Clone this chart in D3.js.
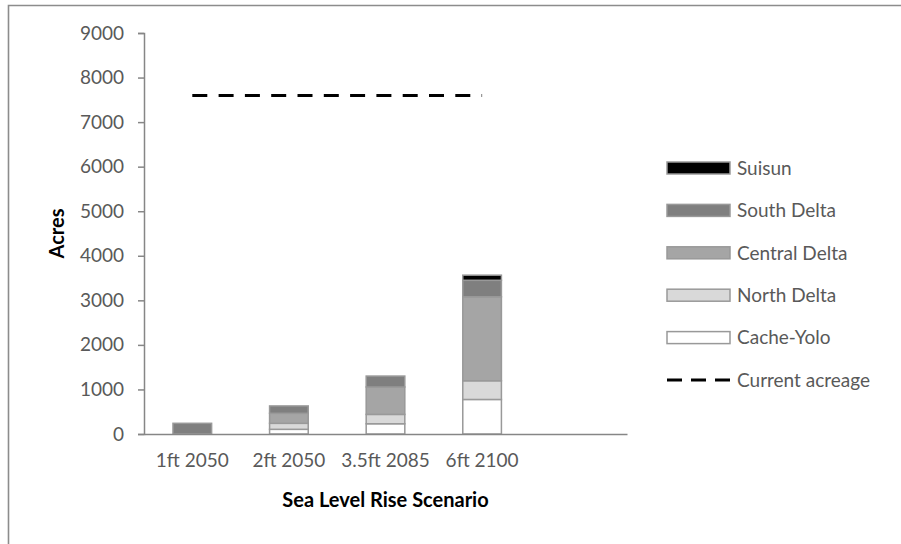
<!DOCTYPE html>
<html>
<head>
<meta charset="utf-8">
<script src="https://cdn.jsdelivr.net/npm/d3@7"></script>
<style>
  html, body { margin: 0; padding: 0; background: #fff; }
  svg { display: block; }
  text { font-family: Lato, "Open Sans", sans-serif; }
</style>
</head>
<body>
<svg id="chart" width="901" height="544"></svg>
<script>
// ---- data ----
const categories = ["1ft 2050", "2ft 2050", "3.5ft 2085", "6ft 2100", ""];
const seriesNames = ["Cache-Yolo", "North Delta", "Central Delta", "South Delta", "Suisun"];
const cacheYolo    = [0, 105, 230, 775, 0];
const northDelta   = [0, 135, 210, 420, 0];
const centralDelta = [0, 225, 615, 1885, 0];
const southDelta   = [240, 165, 245, 370, 0];
const suisun       = [0, 0, 0, 115, 0];
const currentAcreage = 7600;
const lineCategories = ["1ft 2050", "6ft 2100"];
const yTicks = [0, 1000, 2000, 3000, 4000, 5000, 6000, 7000, 8000, 9000];

const seriesValues = [cacheYolo, northDelta, centralDelta, southDelta, suisun];
const colors = ["#ffffff", "#d9d9d9", "#a5a5a5", "#7f7f7f", "#000000"];
const legendOrder = ["Suisun", "South Delta", "Central Delta", "North Delta", "Cache-Yolo"];

// ---- layout ----
const svg = d3.select("#chart");
const x0 = 144, x1 = 627, yTop = 33, yBot = 434;

const x = d3.scaleBand().domain(categories).range([x0, x1]).padding(0);
const y = d3.scaleLinear().domain([0, 9000]).range([yBot, yTop]);
const color = d3.scaleOrdinal().domain(seriesNames).range(colors);

// frame
svg.append("path")
  .attr("d", "M8.5,544 L8.5,5.5 L901,5.5")
  .attr("fill", "none").attr("stroke", "#8c8c8c").attr("stroke-width", 1.6);

// stacked data
const table = categories.map((c, i) => {
  const row = { cat: c };
  seriesNames.forEach((s, k) => row[s] = seriesValues[k][i]);
  return row;
});
const stacked = d3.stack().keys(seriesNames)(table);

const barW = x.bandwidth() * 0.4;
const gBars = svg.append("g");
stacked.forEach(layer => {
  gBars.selectAll(null)
    .data(layer.filter(d => d[1] - d[0] > 0))
    .enter().append("rect")
    .attr("x", d => x(d.data.cat) + (x.bandwidth() - barW) / 2)
    .attr("y", d => y(d[1]))
    .attr("width", barW)
    .attr("height", d => y(d[0]) - y(d[1]))
    .attr("fill", color(layer.key))
    .attr("stroke", "#999999")
    .attr("stroke-width", 1.5);
});

// y axis
const yAxis = d3.axisLeft(y).tickValues(yTicks).tickSize(6).tickPadding(14).tickFormat(d3.format("d"));
const gy = svg.append("g").attr("transform", `translate(${x0},0)`).call(yAxis);
gy.select(".domain").attr("stroke", "#868686").attr("stroke-width", 1.5);
gy.selectAll(".tick line").attr("stroke", "#868686").attr("stroke-width", 1.5);
gy.selectAll(".tick text").attr("fill", "#595959").attr("font-size", 19).attr("font-family", "Lato, sans-serif");

// x axis
const xAxis = d3.axisBottom(x).tickSize(0).tickPadding(20);
const gx = svg.append("g").attr("transform", `translate(0,${yBot})`).call(xAxis);
gx.select(".domain").attr("stroke", "#868686").attr("stroke-width", 1.5);
gx.selectAll(".tick text").attr("fill", "#595959").attr("font-size", 19).attr("font-family", "Lato, sans-serif");

// current acreage dashed line
const line = d3.line().x(d => x(d) + x.bandwidth() / 2).y(() => y(currentAcreage));
svg.append("path")
  .attr("d", line(lineCategories))
  .attr("fill", "none").attr("stroke", "#000").attr("stroke-width", 3)
  .attr("stroke-dasharray", "15,11.3");

// axis titles
svg.append("text")
  .attr("x", (x0 + x1) / 2).attr("y", 507)
  .attr("text-anchor", "middle").attr("font-weight", "bold").attr("font-size", 20)
  .attr("fill", "#000").text("Sea Level Rise Scenario");
svg.append("text")
  .attr("transform", `translate(64,${(yTop + yBot) / 2}) rotate(-90)`)
  .attr("text-anchor", "middle").attr("font-weight", "bold").attr("font-size", 20)
  .attr("fill", "#000").text("Acres");

// legend
const lg = svg.append("g");
const rowY = d3.scalePoint().domain([...legendOrder, "Current acreage"]).range([168, 380]);
legendOrder.forEach(name => {
  lg.append("rect")
    .attr("x", 667).attr("y", rowY(name) - 6).attr("width", 63).attr("height", 12)
    .attr("fill", color(name)).attr("stroke", "#999999").attr("stroke-width", 1.5);
  lg.append("text")
    .attr("x", 737).attr("y", rowY(name)).attr("dy", "0.36em")
    .attr("font-size", 19).attr("fill", "#595959").text(name);
});
lg.append("line")
  .attr("x1", 667).attr("x2", 730)
  .attr("y1", rowY("Current acreage")).attr("y2", rowY("Current acreage"))
  .attr("stroke", "#000").attr("stroke-width", 3).attr("stroke-dasharray", "15,9");
lg.append("text")
  .attr("x", 737).attr("y", rowY("Current acreage")).attr("dy", "0.36em")
  .attr("font-size", 19).attr("fill", "#595959").text("Current acreage");
</script>
</body>
</html>
